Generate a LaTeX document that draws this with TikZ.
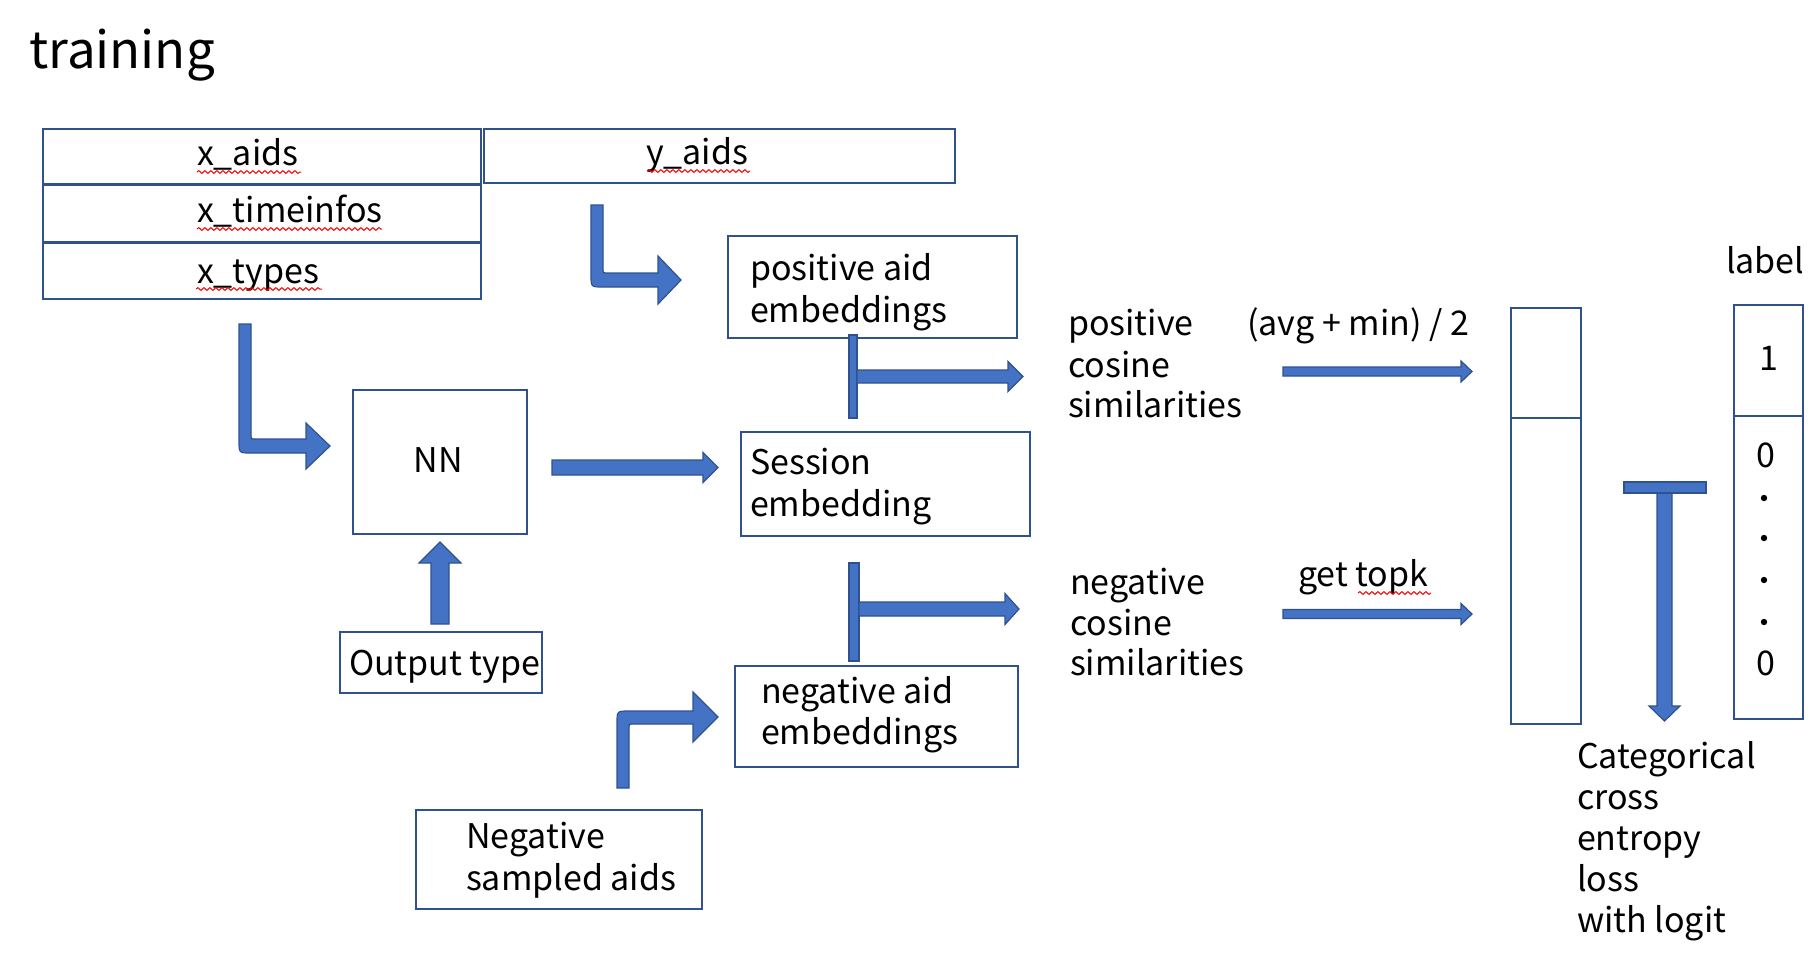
\documentclass[tikz,border=0pt]{standalone}
\usepackage{fontspec}
\setmainfont{Noto Sans CJK JP}
\usetikzlibrary{decorations.pathmorphing}
\definecolor{boxline}{HTML}{2F528F}
\definecolor{arrowfill}{HTML}{4472C4}
\definecolor{spell}{HTML}{FF0000}
\tikzset{
  box/.style={draw=boxline, line width=1pt, inner sep=0pt, outer sep=0pt, anchor=north west},
  txt/.style={inner sep=0pt, outer sep=0pt, anchor=base west, font=\fontsize{17}{21}\selectfont},
  blockarrow/.style={fill=arrowfill, draw=boxline, line width=0.6pt, line join=miter},
  spellmark/.style={draw=spell, line width=0.5pt, decorate, decoration={snake, amplitude=0.7pt, segment length=3pt}},
}
\newcommand{\RightBlock}[6]{%
  \draw[blockarrow] (#1,{#4-#5}) -- (#2,{#4-#5}) -- (#2,{#4-#6}) -- (#3,#4) -- (#2,{#4+#6}) -- (#2,{#4+#5}) -- (#1,{#4+#5}) -- cycle;}
\begin{document}
\begin{tikzpicture}[x=0.5pt,y=-0.5pt]
\useasboundingbox (0,0) rectangle (1816,976);

% title
\node[inner sep=0pt, anchor=base west, font=\fontsize{25.5}{30}\selectfont] (title) at (29,68) {training};

% input boxes
\node[box, minimum width=219pt, minimum height=27.5pt] (xaids) at (43,129) {};
\node[box, minimum width=219pt, minimum height=28.5pt] (xtime) at (43,185) {};
\node[box, minimum width=219pt, minimum height=28pt] (xtypes) at (43,243) {};
\node[box, minimum width=235.5pt, minimum height=27pt] (yaids) at (484,129) {};
\node[txt] (txaids) at (197,165) {x\_aids};
\node[txt] (txtime) at (197,222) {x\_timeinfos};
\node[txt] (txtypes) at (197,283) {x\_types};
\node[txt] (tyaids) at (646,164) {y\_aids};
\draw[spellmark] (197,172) -- (301,172);
\draw[spellmark] (197,229) -- (382,229);
\draw[spellmark] (196,289) -- (322,289);
\draw[spellmark] (647,171) -- (750,171);

% main boxes
\node[box, minimum width=144.5pt, minimum height=51pt] (posemb) at (728,236) {};
\node[txt] (tposemb1) at (750,280) {positive aid};
\node[txt] (tposemb2) at (750,322) {embeddings};

\node[box, minimum width=87pt, minimum height=72pt] (nn) at (353,390) {};
\node[txt, anchor=base] (tnn) at (438,472) {NN};

\node[box, minimum width=144.5pt, minimum height=52pt] (session) at (741,432) {};
\node[txt] (tsession1) at (750,474) {Session};
\node[txt] (tsession2) at (750,516) {embedding};

\node[box, minimum width=101pt, minimum height=30.5pt] (outtype) at (340,632) {};
\node[txt] (touttype) at (349,675) {Output type};

\node[box, minimum width=141.5pt, minimum height=50.5pt] (negemb) at (735,666) {};
\node[txt] (tnegemb1) at (761,703) {negative aid};
\node[txt] (tnegemb2) at (761,744) {embeddings};

\node[box, minimum width=143pt, minimum height=49.5pt] (negsamp) at (416,810) {};
\node[txt] (tnegsamp1) at (466,848) {Negative};
\node[txt] (tnegsamp2) at (466,890) {sampled aids};

% similarity texts
\node[txt] (tpc1) at (1068,335) {positive};
\node[txt] (tpc2) at (1068,377) {cosine};
\node[txt] (tpc3) at (1068,417) {similarities};
\node[txt] (tnc1) at (1070,594) {negative};
\node[txt] (tnc2) at (1070,635) {cosine};
\node[txt] (tnc3) at (1070,675) {similarities};
\node[txt] (tavg) at (1247,335) {(avg + min) / 2};
\node[txt] (ttopk) at (1298,586) {get topk};
\draw[spellmark] (1358,593) -- (1431,593);

% score column
\node[box, minimum width=35pt, minimum height=55pt] (coltop) at (1511,308) {};
\node[box, minimum width=35pt, minimum height=153pt] (colbot) at (1511,418) {};

% label column
\node[txt] (tlabel) at (1726,273) {label};
\node[box, minimum width=34.5pt, minimum height=55.5pt] (labtop) at (1734,305) {};
\node[box, minimum width=34.5pt, minimum height=151.5pt] (labbot) at (1734,416) {};
\node[txt, anchor=base] (tone) at (1769,370) {1};
\node[txt, anchor=base] (tzero1) at (1766,467) {0};
\node[txt, anchor=base] (tzero2) at (1766,675) {0};
\foreach \yy in {498,538,580,622}
  \fill (1764,\yy) circle[radius=1.6pt];

% loss text
\node[txt] (tl1) at (1577,768) {Categorical};
\node[txt] (tl2) at (1577,809) {cross};
\node[txt] (tl3) at (1577,850) {entropy};
\node[txt] (tl4) at (1577,891) {loss};
\node[txt] (tl5) at (1577,932) {with logit};

% block arrows
% x_types -> NN
\draw[blockarrow] (239,324) -- (239,441) .. controls (239,453) .. (251,453) -- (306,453) -- (306,469) -- (330,446) -- (306,423) -- (306,439) -- (254,439) .. controls (251,439) .. (251,436) -- (251,324) -- cycle;
% y_aids -> positive aid embeddings
\draw[blockarrow] (591,205) -- (591,275) .. controls (591,287) .. (603,287) -- (658,287) -- (658,304) -- (681,280) -- (658,256) -- (658,273) -- (606,273) .. controls (603,273) .. (603,270) -- (603,205) -- cycle;
% Negative sampled aids -> negative aid embeddings
\draw[blockarrow] (617,788) -- (617,723) .. controls (617,711) .. (629,711) -- (693,711) -- (693,692) -- (718,717) -- (693,742) -- (693,724) -- (632,724) .. controls (629,724) .. (629,727) -- (629,788) -- cycle;
% Output type -> NN
\draw[blockarrow] (431,624) -- (431,563) -- (419,563) -- (440,542) -- (461,563) -- (449,563) -- (449,624) -- cycle;
% NN -> Session
\RightBlock{552}{703}{718}{467.5}{7.5}{15}
% positive T
\draw[blockarrow] (849,335) rectangle (857,418);
\RightBlock{857}{1008}{1023}{376.5}{6.5}{15}
% negative T
\draw[blockarrow] (849,563) rectangle (859,661);
\RightBlock{859}{1005}{1019}{609}{7}{15.5}
% thin arrows
\RightBlock{1283}{1461}{1472}{371.5}{4.5}{10.5}
\RightBlock{1283}{1461}{1472}{614}{4.5}{10.5}
% down arrow with bar
\draw[blockarrow] (1657,493) -- (1657,706) -- (1649,706) -- (1664.5,721) -- (1680,706) -- (1672,706) -- (1672,493) -- cycle;
\draw[blockarrow] (1624,482) rectangle (1706,493);
\end{tikzpicture}
\end{document}
